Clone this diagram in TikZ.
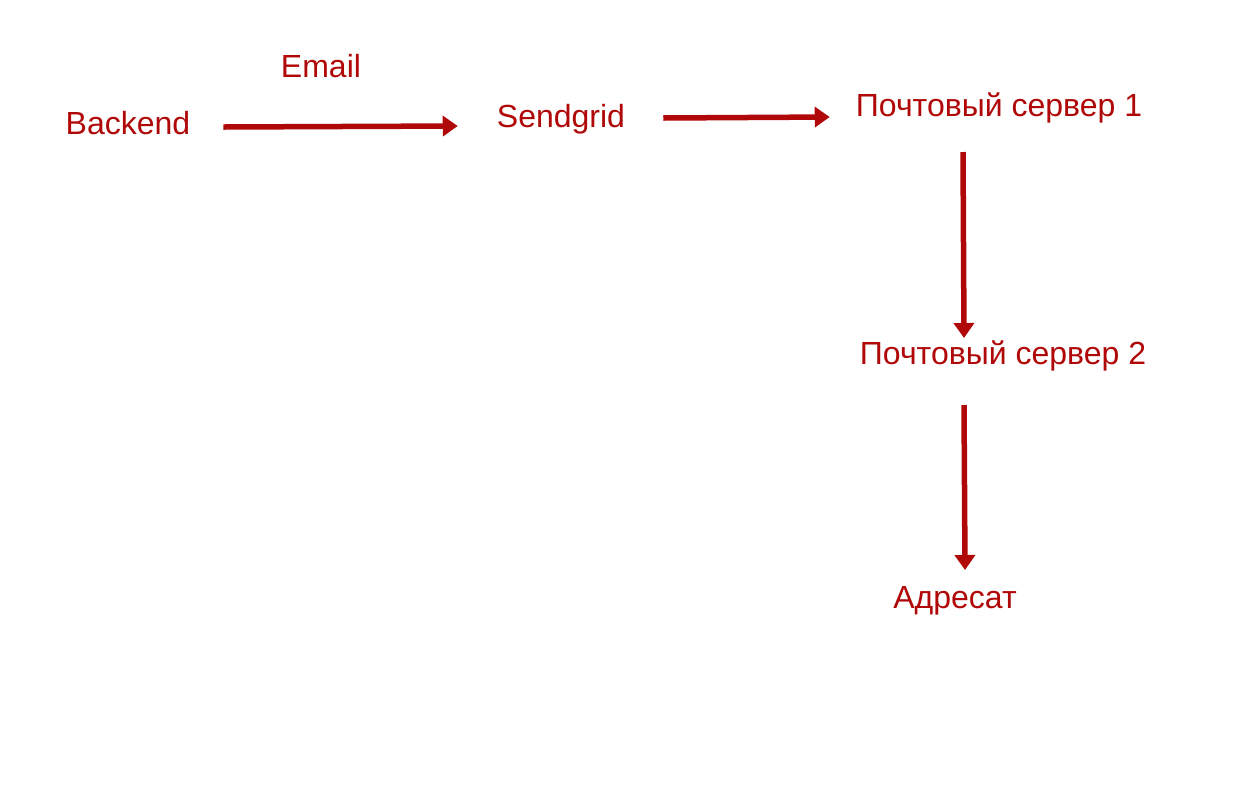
\documentclass[tikz,border=0pt]{standalone}
\usepackage{fontspec}
\setmainfont{Liberation Sans}
\usepackage{xcolor}
\definecolor{mailred}{HTML}{B00808}
\usetikzlibrary{positioning, arrows.meta}

\begin{document}
\begin{tikzpicture}[x=1pt, y=-1pt,
	lbl/.style={text=mailred, inner sep=0pt, anchor=base, font=\fontsize{32}{38}\selectfont},
	flow/.style={draw=mailred, line width=5.5pt, -{Triangle[length=15pt, width=20pt]}}]
	\useasboundingbox (0,0) rectangle (1241,807);
	\node[lbl] (email) at (321,77) {Email};
	\node[lbl] (backend) at (128,134) {Backend};
	\node[lbl] (sendgrid) at (561,127) {Sendgrid};
	\node[lbl] (ps1) at (999,116) {Почтовый сервер 1};
	\node[lbl] (ps2) at (1003,364) {Почтовый сервер 2};
	\node[lbl] (adresat) at (955,608) {Адресат};
	\draw[flow] ([xshift=33pt, yshift=7pt]backend.base east) -- ([xshift=-39pt, yshift=1pt]sendgrid.base west);
	\draw[flow] ([xshift=38pt, yshift=9pt]sendgrid.base east) -- ([xshift=-26pt, yshift=-1pt]ps1.base west);
	\draw[flow] ([xshift=-36pt, yshift=-36pt]ps1.base) -- ([xshift=-39pt, yshift=26pt]ps2.base);
	\draw[flow] ([xshift=-39pt, yshift=-41pt]ps2.base) -- ([xshift=10pt, yshift=38pt]adresat.base);
\end{tikzpicture}
\end{document}
